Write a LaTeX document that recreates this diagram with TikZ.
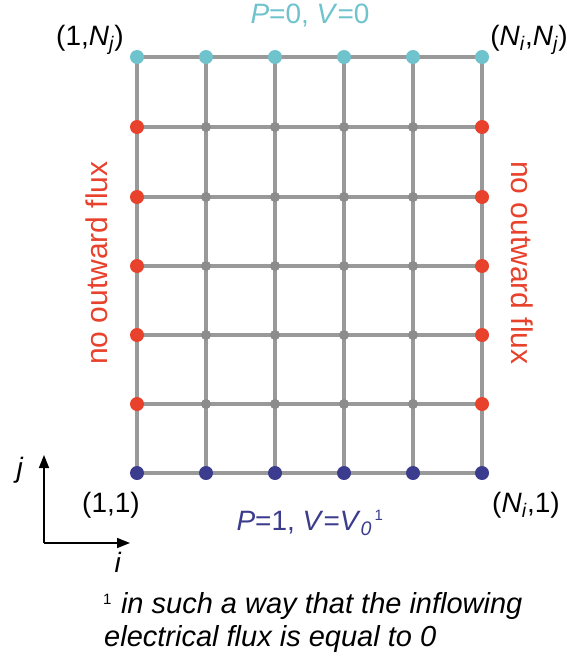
\documentclass[tikz,border=0pt]{standalone}
\usepackage{fontspec}
\setmainfont{Liberation Sans}
\usetikzlibrary{arrows.meta}
\definecolor{gridgray}{HTML}{999999}
\definecolor{dotgray}{HTML}{8C8C8C}
\definecolor{topcyan}{HTML}{6EC3CD}
\definecolor{sidered}{HTML}{E8412C}
\definecolor{botnavy}{HTML}{3C3C8E}
\newcommand\Sb[1]{\textsubscript{\textit{#1}}}
\tikzset{
  gline/.style={draw=gridgray, line width=4pt},
  gdot/.style={circle, fill=dotgray, inner sep=0pt, minimum size=10pt},
  cdot/.style={circle, fill=topcyan, inner sep=0pt, minimum size=14pt},
  rdot/.style={circle, fill=sidered, inner sep=0pt, minimum size=14pt},
  ndot/.style={circle, fill=botnavy, inner sep=0pt, minimum size=14pt},
  lbl/.style={inner sep=0pt, font=\fontsize{28}{32}\selectfont},
  flx/.style={inner sep=0pt, text=sidered, font=\fontsize{30}{34}\selectfont},
  fnt/.style={inner sep=0pt, anchor=west, font=\fontsize{29}{33}\selectfont\itshape},
  axis/.style={draw=black, line width=1.6pt, -{Triangle[length=13pt,width=10pt]}}
}
\begin{document}
\begin{tikzpicture}[x=1pt,y=-1pt]
\useasboundingbox (0,0) rectangle (567,666);
% grid coordinates
\foreach \c [count=\ci] in {137,206,275,344,413,482}{
  \foreach \r [count=\ri] in {473,404,335,266,197,127,57}{
    \coordinate (p\ci-\ri) at (\c,\r);
  }
}
% grid lines
\foreach \ci in {1,...,6}{ \draw[gline] (p\ci-1) -- (p\ci-7); }
\foreach \ri in {1,...,7}{ \draw[gline] (p1-\ri) -- (p6-\ri); }
% dots
\foreach \ci in {2,...,5}{ \foreach \ri in {2,...,6}{ \node[gdot] (d\ci-\ri) at (p\ci-\ri) {}; } }
\foreach \ci in {1,...,6}{
  \node[ndot] (b\ci) at (p\ci-1) {};
  \node[cdot] (t\ci) at (p\ci-7) {};
}
\foreach \ri in {2,...,6}{
  \node[rdot] (l\ri) at (p1-\ri) {};
  \node[rdot] (r\ri) at (p6-\ri) {};
}
% labels
\node[lbl, text=topcyan] (topbc) at (310,16) {\textit{P}=0, \textit{V}=0};
\node[lbl] (c1N) at (90,40) {(1,\textit{N}\Sb{j})};
\node[lbl, anchor=east] (cNN) at (568,40) {(\textit{N}\Sb{i},\textit{N}\Sb{j})};
\node[lbl] (c11) at (111,505) {(1,1)};
\node[lbl] (cN1) at (526,505) {(\textit{N}\Sb{i},1)};
\node[lbl, text=botnavy] (botbc) at (310,523) {\textit{P}=1, \textit{V}=\textit{V}\Sb{0}\textsuperscript{\fontsize{15}{17}\selectfont\,1}};
\node[flx, rotate=90] (lflux) at (97,263) {no outward flux};
\node[flx, rotate=-90] (rflux) at (522,263) {no outward flux};
% axes
\coordinate (o) at (44,543);
\coordinate (jend) at (44,455);
\coordinate (iend) at (130,543);
\draw[axis] (o) -- (jend);
\draw[axis] (o) -- (iend);
\node[lbl] (jl) at (20,470) {\textit{j}};
\node[lbl] (il) at (118,562) {\textit{i}};
% footnote
\node[fnt] (fn1) at (103,606) {\textsuperscript{\upshape\fontsize{15}{17}\selectfont 1}\hspace{9pt}in such a way that the inflowing};
\node[fnt] (fn2) at (104,639) {electrical flux is equal to 0};
\end{tikzpicture}
\end{document}
